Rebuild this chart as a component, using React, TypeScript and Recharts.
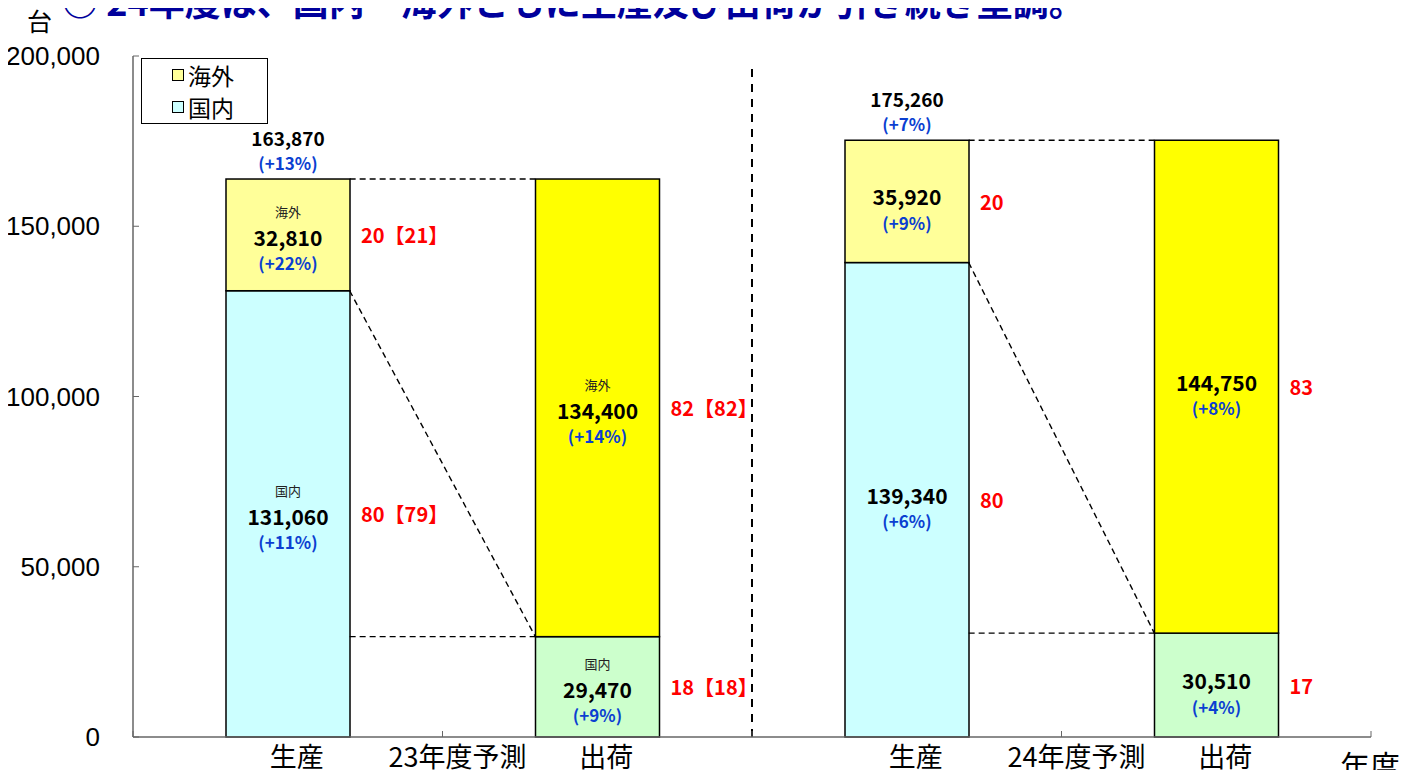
import React from "react";
import { BarChart, Bar, XAxis, YAxis, ReferenceLine, Legend } from "recharts";

// 23年度 / 24年度予測: 生産 and 出荷, split 国内 / 海外 (台)
const categories = ["生産", "出荷", "生産", "出荷"];
const yearLabels = ["23年度予測", "24年度予測"];
const domestic = [131060, 29470, 139340, 30510];
const overseas = [32810, 134400, 35920, 144750];
const domesticChange = ["+11%", "+9%", "+6%", "+4%"];
const overseasChange = ["+22%", "+14%", "+9%", "+8%"];
const domesticShare = ["80【79】", "18【18】", "80", "17"];
const overseasShare = ["20【21】", "82【82】", "20", "83"];
const totalChange = ["+13%", "", "+7%", ""];
const showSegmentName = [true, true, false, false];
const yTicks = [0, 50000, 100000, 150000, 200000];

const domesticColors = ["#ccffff", "#ccffcc", "#ccffff", "#ccffcc"];
const overseasColors = ["#ffff99", "#ffff00", "#ffff99", "#ffff00"];
const legendItems = [
  { name: "海外", color: "#ffff99" },
  { name: "国内", color: "#ccffff" },
];

const data = categories.map((name, i) => ({
  pos: i + 0.5,
  name,
  domestic: domestic[i],
  overseas: overseas[i],
}));

const JP = "'Noto Sans CJK JP', 'Noto Sans', sans-serif";
const AXIS = "#666";
const BLUE = "#0b3fd1";
const RED = "#ff0000";
const HALF_BAR = 0.2; // bar is 40% of a category slot

const W = 1420;
const H = 778;
const PLOT_W = 1240;
const barSize = (PLOT_W / categories.length) * HALF_BAR * 2;

// dashed connectors between 生産 and 出荷 of each year
const connectors: { x: number; y: number }[][] = [];
for (let p = 0; p < categories.length; p += 2) {
  const s = p + 1;
  const total = domestic[p] + overseas[p];
  connectors.push([
    { x: p + 0.5 + HALF_BAR, y: total },
    { x: s + 0.5 - HALF_BAR, y: total },
  ]);
  connectors.push([
    { x: p + 0.5 + HALF_BAR, y: domestic[p] },
    { x: s + 0.5 - HALF_BAR, y: domestic[s] },
  ]);
  connectors.push([
    { x: p + 0.5 + HALF_BAR, y: domestic[s] },
    { x: s + 0.5 - HALF_BAR, y: domestic[s] },
  ]);
}

function Segment(props: any) {
  const { x, y, width, height, index, kind } = props;
  const isDom = kind === "domestic";
  const fill = isDom ? domesticColors[index] : overseasColors[index];
  const value = isDom ? domestic[index] : overseas[index];
  const pct = isDom ? domesticChange[index] : overseasChange[index];
  const share = isDom ? domesticShare[index] : overseasShare[index];
  const named = showSegmentName[index];
  const cx = x + width / 2;
  const cy = y + height / 2;
  const numY = named ? cy + 2 : cy - 5;
  return (
    <g>
      <rect x={x} y={y} width={width} height={height} fill={fill} stroke="#000" strokeWidth={1.5} />
      {named && (
        <text x={cx} y={cy - 23} textAnchor="middle" dominantBaseline="central" fontFamily={JP} fontSize={13} fill="#222">
          {isDom ? "国内" : "海外"}
        </text>
      )}
      <text x={cx} y={numY} textAnchor="middle" dominantBaseline="central" fontFamily={JP} fontWeight={700} fontSize={21} fill="#000">
        {value.toLocaleString("en-US")}
      </text>
      <text x={cx} y={numY + 26} textAnchor="middle" dominantBaseline="central" fontFamily={JP} fontWeight={700} fontSize={17} fill={BLUE}>
        ({pct})
      </text>
      <text x={x + width + 11} y={cy} textAnchor="start" dominantBaseline="central" fontFamily={JP} fontWeight={700} fontSize={20} fill={RED}>
        {share}
      </text>
      {!isDom && totalChange[index] && (
        <>
          <text x={cx} y={y - 42} textAnchor="middle" dominantBaseline="central" fontFamily={JP} fontWeight={700} fontSize={19} fill="#000">
            {(domestic[index] + overseas[index]).toLocaleString("en-US")}
          </text>
          <text x={cx} y={y - 17} textAnchor="middle" dominantBaseline="central" fontFamily={JP} fontWeight={700} fontSize={17} fill={BLUE}>
            ({totalChange[index]})
          </text>
        </>
      )}
    </g>
  );
}

function YTick(props: any) {
  const { x, y, payload } = props;
  return (
    <g>
      <line x1={x} x2={x + 6} y1={y} y2={y} stroke={AXIS} />
      <text x={x - 33} y={y} textAnchor="end" dominantBaseline="central" fontFamily="'Liberation Sans', Arial, sans-serif" fontSize={26} fill="#000">
        {Number(payload.value).toLocaleString("en-US")}
      </text>
    </g>
  );
}

function XTick(props: any) {
  const { x, y, payload } = props;
  const v = Number(payload.value);
  if (Number.isInteger(v)) {
    const yl = v % 2 === 1 ? yearLabels[(v - 1) / 2] : null;
    return (
      <g>
        <line x1={x} x2={x} y1={y} y2={y - 6} stroke={AXIS} />
        {yl && (
          <text x={x + 15} y={y + 30} textAnchor="middle" fontFamily={JP} fontSize={27} fill="#000">
            {yl}
          </text>
        )}
      </g>
    );
  }
  const name = categories[Math.floor(v)];
  return (
    <text x={x + 9} y={y + 30} textAnchor="middle" fontFamily={JP} fontSize={27} fill="#000">
      {name}
    </text>
  );
}

function LegendBox() {
  return (
    <div style={{ border: "1px solid #000", background: "#fff", width: 127, height: 66, boxSizing: "border-box", padding: "0 0 0 30px" }}>
      {legendItems.map((it) => (
        <div
          key={it.name}
          style={{ display: "flex", alignItems: "center", height: 32, lineHeight: "23px", fontFamily: JP, fontSize: 23, color: "#000" }}
        >
          <span style={{ display: "inline-block", width: 10, height: 10, border: "1px solid #000", background: it.color, marginRight: 4 }} />
          {it.name}
        </div>
      ))}
    </div>
  );
}

export default function App() {
  return (
    <div style={{ position: "relative", width: W, height: H, margin: -8, overflow: "hidden", background: "#fff" }}>
      <BarChart width={W} height={H} data={data} margin={{ top: 56, right: 49, bottom: 0, left: 33 }}>
        <XAxis
          dataKey="pos"
          type="number"
          domain={[0, 4]}
          ticks={[0, 0.5, 1, 1.5, 2, 2.5, 3, 3.5, 4]}
          interval={0}
          tick={<XTick />}
          tickLine={false}
          tickSize={0}
          tickMargin={0}
          height={41}
          stroke={AXIS}
          strokeWidth={1.5}
        />
        <YAxis
          type="number"
          domain={[0, 200000]}
          ticks={yTicks}
          interval={0}
          tick={<YTick />}
          tickLine={false}
          tickSize={0}
          tickMargin={0}
          width={100}
          stroke={AXIS}
          strokeWidth={1.5}
        />
        <Legend
          layout="horizontal"
          verticalAlign="middle"
          align="center"
          content={() => <LegendBox />}
          wrapperStyle={{ left: 141, top: 58, width: "auto", height: "auto" }}
        />
        <Bar dataKey="domestic" stackId="a" barSize={barSize} isAnimationActive={false} shape={(p: any) => <Segment {...p} kind="domestic" />} />
        <Bar dataKey="overseas" stackId="a" barSize={barSize} isAnimationActive={false} shape={(p: any) => <Segment {...p} kind="overseas" />} />
        {connectors.map((seg, i) => (
          <ReferenceLine key={i} segment={seg} stroke="#000" strokeWidth={1.4} strokeDasharray="6 4" />
        ))}
        <ReferenceLine segment={[{ x: 2, y: 0 }, { x: 2, y: 198000 }]} stroke="#000" strokeWidth={2} strokeDasharray="8 7" />
      </BarChart>
      <svg width={W} height={H} style={{ position: "absolute", left: 0, top: 0, pointerEvents: "none" }}>
        <text x={62} y={16} fontFamily={JP} fontWeight={700} fontSize={36} fill="#00009c">
          ○ 24年度は、国内・海外ともに生産及び出荷が引き続き堅調。
        </text>
        <text x={27} y={31} fontFamily={JP} fontSize={25} fill="#000">
          台
        </text>
        <text x={1340} y={777} fontFamily={JP} fontSize={30} fill="#000">
          年度
        </text>
      </svg>
    </div>
  );
}
